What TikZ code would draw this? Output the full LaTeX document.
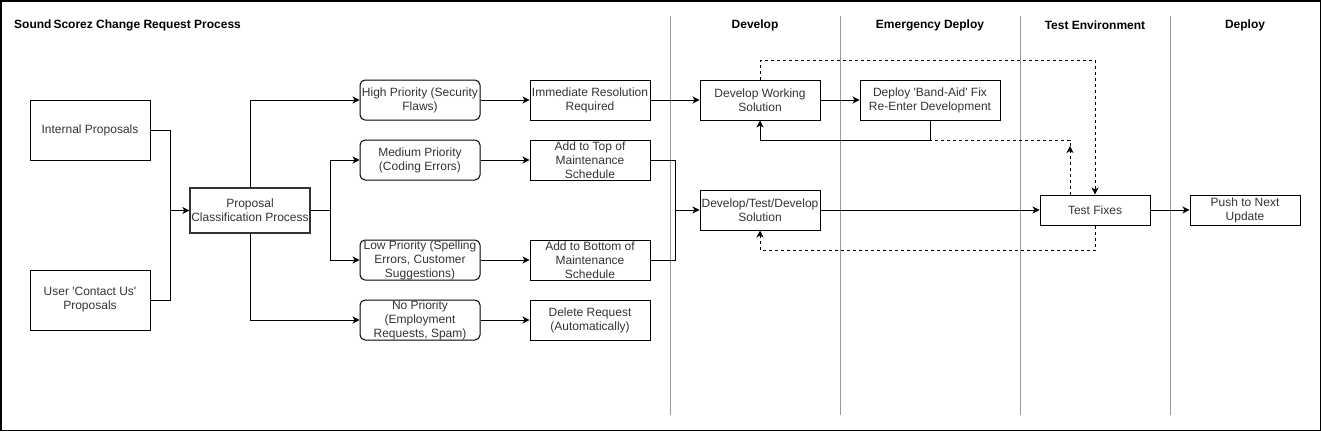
\documentclass[tikz,border=0pt]{standalone}
\usepackage{fontspec}
\setmainfont{Liberation Sans}
\usepackage{tikz}
\usetikzlibrary{arrows.meta}
\definecolor{txtgray}{HTML}{333333}
\definecolor{lanegray}{HTML}{999999}
\tikzstyle{edge}=[
	-,
	draw=black,
	line width=1pt
]
\tikzstyle{arr}=[
	edge,
	-{Stealth[length=7pt,width=7pt,inset=2pt]}
]
\tikzstyle{dasharr}=[
	arr,
	dash pattern=on 3pt off 3pt
]
\tikzstyle{box}=[
	draw=black,
	line width=1pt,
	inner sep=0pt,
	minimum width=120pt,
	minimum height=40pt,
	align=center,
	text=txtgray,
	font=\fontsize{12}{14}\selectfont
]
\tikzstyle{rbox}=[
	box,
	rounded corners=5pt
]
\tikzstyle{hdr}=[
	inner sep=0pt,
	font=\fontsize{12}{14}\selectfont\bfseries
]

\begin{document}
\begin{tikzpicture}[x=1pt, y=-1pt]
\useasboundingbox (0,0) rectangle (1321,431);
\draw[line width=1.5pt] (0.75,0.75) rectangle (1320.25,430.25);

\node[hdr, anchor=west] at (14,25) (title) {Sound\,Scorez Change Request Process};

\foreach \x/\n in {670/1, 840/2, 1020/3, 1170/4}{
    \draw[lanegray, line width=1pt] (\x,16) -- (\x,415);
}
\foreach \x/\n/\t in {755/1/Develop, 930/2/Emergency Deploy, 1095/3/Test Environment, 1245/4/Deploy}{
    \node[hdr] at (\x, 25) (lane\n) {\t};
}

% inputs
\node[box, minimum height=60pt] at (90,130) (inprop) {Internal Proposals};
\node[box, minimum height=60pt] at (90,300) (userprop) {User \textquotesingle Contact Us\textquotesingle\\Proposals};
\node[box, minimum height=45pt, line width=1.3pt, draw=black!80] at (250,210.5) (classif) {Proposal\\Classification Process};

% priorities
\node[rbox] at (420,100) (high) {High Priority (Security\\Flaws)};
\node[rbox] at (420,160) (med) {Medium Priority\\(Coding Errors)};
\node[rbox] at (420,260) (low) {Low Priority (Spelling\\Errors, Customer\\Suggestions)};
\node[rbox] at (420,320) (nopri) {No Priority\\(Employment\\Requests, Spam)};

\node[box] at (590,100) (immed) {Immediate Resolution\\Required};
\node[box] at (590,160) (addtop) {Add to Top of\\Maintenance\\Schedule};
\node[box] at (590,260) (addbot) {Add to Bottom of\\Maintenance\\Schedule};
\node[box] at (590,320) (delreq) {Delete Request\\(Automatically)};

% lanes
\node[box] at (760,100) (devwork) {Develop Working\\Solution};
\node[box] at (760,210) (devtest) {Develop/Test/Develop\\Solution};
\node[box, minimum width=140pt] at (930,100) (bandaid) {Deploy \textquotesingle Band-Aid\textquotesingle\ Fix\\Re-Enter Development};
\node[box, minimum width=110pt, minimum height=30pt] at (1095,210) (testfix) {Test Fixes};
\node[box, minimum width=110pt, minimum height=30pt] at (1245,210) (push) {Push to Next\\Update};

\coordinate (merge) at (170,210.5);
\coordinate (split) at (330,210.5);
\coordinate (join) at (675,210);
\coordinate (bend) at (930,140);
\coordinate (ret) at (1070,140);
\coordinate (topc) at (1095,60);
\coordinate (botc) at (1095,250);

\draw[edge] (inprop.east) -| (merge);
\draw[edge] (userprop.east) -| (merge);
\draw[arr] (merge) -- (classif.west);

\draw[arr] (classif.north) |- (high.west);
\draw[arr] (classif.south) |- (nopri.west);
\draw[edge] (classif.east) -- (split);
\draw[arr] (split) |- (med.west);
\draw[arr] (split) |- (low.west);

\foreach \a/\b in {high/immed, med/addtop, low/addbot, nopri/delreq}{
    \draw[arr] (\a) -- (\b);
}

\draw[arr] (immed) -- (devwork);
\draw[edge] (addtop.east) -| (join);
\draw[edge] (addbot.east) -| (join);
\draw[arr] (join) -- (devtest.west);

\draw[arr] (devwork) -- (bandaid);
\draw[arr] (bandaid.south) -- (bend) -| (devwork.south);
\draw[edge, dash pattern=on 3pt off 3pt] ([yshift=-6pt]ret) -- (ret) -- (bend);
\draw[dasharr] (testfix.north -| ret) -- ([yshift=-6pt]ret);
\draw[dasharr] (devwork.north) |- (topc) -- (testfix.north);
\draw[dasharr] (testfix.south) -- (botc) -| (devtest.south);

\draw[arr] (devtest) -- (testfix);
\draw[arr] (testfix) -- (push);
\end{tikzpicture}
\end{document}
